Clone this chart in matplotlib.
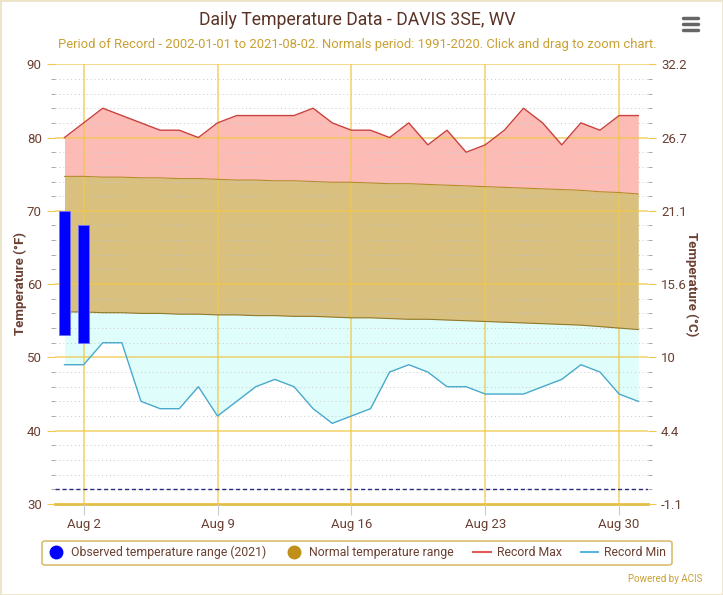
import matplotlib.pyplot as plt
from matplotlib.lines import Line2D
from matplotlib.patches import Rectangle
from matplotlib.ticker import MultipleLocator

# day of month (August 2021)
days = list(range(1, 32))
record_max = [80, 82, 84, 83, 82, 81, 81, 80, 82, 83, 83, 83, 83, 84, 82, 81,
              81, 80, 82, 79, 81, 78, 79, 81, 84, 82, 79, 82, 81, 83, 83]
record_min = [49, 49, 52, 52, 44, 43, 43, 46, 42, 44, 46, 47, 46, 43, 41, 42,
              43, 48, 49, 48, 46, 46, 45, 45, 45, 46, 47, 49, 48, 45, 44]
normal_max = [74.7, 74.7, 74.6, 74.6, 74.5, 74.5, 74.4, 74.4, 74.3, 74.2, 74.2,
              74.1, 74.1, 74.0, 73.9, 73.9, 73.8, 73.7, 73.7, 73.6, 73.5, 73.4,
              73.3, 73.2, 73.1, 73.0, 72.9, 72.8, 72.6, 72.5, 72.3]
normal_min = [56.2, 56.2, 56.1, 56.1, 56.0, 56.0, 55.9, 55.9, 55.8, 55.8, 55.7,
              55.7, 55.6, 55.6, 55.5, 55.4, 55.4, 55.3, 55.2, 55.2, 55.1, 55.0,
              54.9, 54.8, 54.7, 54.6, 54.5, 54.4, 54.2, 54.0, 53.8]
obs_days = [1, 2]
obs_low = [53, 52]
obs_high = [70, 68]
freezing = 32

xtick_days = [2, 9, 16, 23, 30]
xtick_labels = ['Aug 2', 'Aug 9', 'Aug 16', 'Aug 23', 'Aug 30']
f_ticks = [30, 40, 50, 60, 70, 80, 90]
c_labels = ['-1.1', '4.4', '10', '15.6', '21.1', '26.7', '32.2']

plt.rcParams['font.family'] = ['Roboto', 'DejaVu Sans']
brown = '#6b4032'
gold = '#f0c84a'

fig = plt.figure(figsize=(7.23, 5.95), dpi=100)
ax = fig.add_axes([0.076, 0.153, 0.82, 0.739])

ax.fill_between(days, normal_max, record_max, color='#fdbbb5', lw=0, zorder=1)
ax.fill_between(days, normal_min, normal_max, color='#d9c07f', lw=0, zorder=1)
ax.fill_between(days, record_min, normal_min, color='#dffdfb', lw=0, zorder=1)
ax.plot(days, record_max, color='#c9413c', lw=1, zorder=4)
ax.plot(days, record_min, color='#4aa9cc', lw=1, zorder=4)
ax.plot(days, normal_max, color='#b58c2a', lw=0.8, zorder=4)
ax.plot(days, normal_min, color='#8f7a2a', lw=0.8, zorder=4)

heights = [h - l for h, l in zip(obs_high, obs_low)]
ax.bar(obs_days, heights, bottom=obs_low, width=0.55, color='#0000ff',
       edgecolor='#7070ff', lw=0.6, zorder=5)
ax.axhline(freezing, color='#2a2a80', ls=(0, (3, 2)), lw=1, zorder=4)

ax.set_xlim(0.5, 31.5)
ax.set_ylim(30, 90)
ax.set_xticks(xtick_days)
ax.set_xticklabels(xtick_labels)
ax.set_yticks(f_ticks)
ax.yaxis.set_minor_locator(MultipleLocator(2))

ax.grid(which='major', axis='both', color=gold, lw=1.2, alpha=0.75, zorder=3)
ax.grid(which='minor', axis='y', color='#c8c8c8', ls=(0, (1, 3)), lw=0.7, zorder=3)
ax.set_axisbelow(False)

for s in ['top', 'left', 'right']:
    ax.spines[s].set_visible(False)
ax.spines['bottom'].set_color('#e0bd4a')
ax.spines['bottom'].set_linewidth(2)

ax.tick_params(axis='x', colors='#c8ccd8', length=8, labelcolor=brown, labelsize=9.5, pad=2)
ax.tick_params(axis='y', which='major', colors=gold, length=6, labelcolor=brown, labelsize=9.5)
ax.tick_params(axis='y', which='minor', colors='#999999', length=3)

ax2 = ax.twinx()
ax2.set_ylim(30, 90)
ax2.set_yticks(f_ticks)
ax2.set_yticklabels(c_labels)
ax2.yaxis.set_minor_locator(MultipleLocator(2))
for s in ax2.spines.values():
    s.set_visible(False)
ax2.tick_params(axis='y', which='major', colors=gold, length=6, labelcolor=brown, labelsize=9.5)
ax2.tick_params(axis='y', which='minor', colors='#999999', length=3)

fig.text(0.028, 0.523, 'Temperature (°F)', rotation=90, ha='center', va='center',
         color=brown, fontsize=9.5, fontweight='bold')
fig.text(0.957, 0.523, 'Temperature (°C)', rotation=270, ha='center', va='center',
         color=brown, fontsize=9.5, fontweight='bold')

fig.text(0.494, 0.967, 'Daily Temperature Data - DAVIS 3SE, WV', ha='center', va='center',
         fontsize=12.7, color='#5a3326')
fig.text(0.494, 0.926, 'Period of Record - 2002-01-01 to 2021-08-02. Normals period: 1991-2020. '
         'Click and drag to zoom chart.', ha='center', va='center', fontsize=9.4, color='#c9a032')

handles = [
    Line2D([], [], marker='o', ls='', ms=9, color='#0000ff'),
    Line2D([], [], marker='o', ls='', ms=9, color='#bf8f1a'),
    Line2D([], [], color='#e05a5a', lw=1.5),
    Line2D([], [], color='#5ab4e0', lw=1.5),
]
labels = ['Observed temperature range (2021)', 'Normal temperature range',
          'Record Max', 'Record Min']
leg = fig.legend(handles, labels, loc='center', bbox_to_anchor=(0.494, 0.071), ncol=4,
                 fontsize=8.8, handlelength=1.4, columnspacing=1.6, handletextpad=0.5,
                 frameon=True, fancybox=True, edgecolor='#d0ad4c', borderpad=0.45)
leg.get_frame().set_linewidth(1.2)
for t in leg.get_texts():
    t.set_color(brown)

fig.text(0.972, 0.027, 'Powered by ACIS', ha='right', va='center', fontsize=7, color='#c9a032')

# menu icon
for yy in [0.969, 0.959, 0.949]:
    fig.add_artist(Line2D([0.945, 0.965], [yy, yy], transform=fig.transFigure,
                          color='#666666', lw=2.5, solid_capstyle='round'))

fig.add_artist(Rectangle((0, 0), 1, 1, transform=fig.transFigure, fill=False,
                         edgecolor='#ece4c8', lw=2))

fig.savefig('out.png', dpi=100)
